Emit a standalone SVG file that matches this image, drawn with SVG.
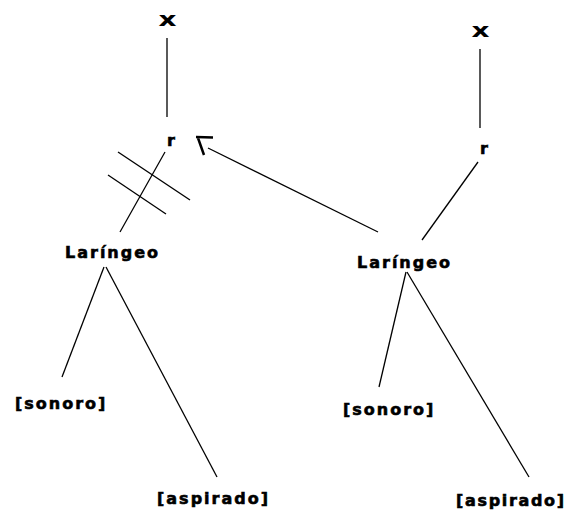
<svg xmlns="http://www.w3.org/2000/svg" width="571" height="511" viewBox="0 0 571 511">
<style>
.t{font-family:"DejaVu Sans","Liberation Sans",sans-serif;font-weight:bold;font-size:16px;letter-spacing:2px;fill:#000;stroke:#000;stroke-width:0.6px}
.x{font-family:"DejaVu Sans","Liberation Sans",sans-serif;font-weight:bold;font-size:20px;fill:#000}
.l{stroke:#000;stroke-width:1.3;fill:none}
.h{stroke:#000;stroke-width:2.5;fill:none}
</style>
<rect width="571" height="511" fill="#fff"/>
<g id="connectors">
<line class="l" x1="167" y1="38" x2="167" y2="117"/>
<line class="l" x1="165" y1="152" x2="120" y2="232"/>
<line class="l" x1="118" y1="152" x2="190" y2="200"/>
<line class="l" x1="108" y1="175" x2="166" y2="214"/>
<line class="l" x1="104" y1="267" x2="62" y2="377"/>
<line class="l" x1="106" y1="267" x2="217" y2="477"/>
<line class="l" x1="480" y1="49" x2="480" y2="128"/>
<line class="l" x1="478" y1="162" x2="422" y2="240"/>
<line class="l" x1="378" y1="232" x2="208" y2="148"/>
<path class="h" d="M196,137 L213,137.5 M198,138 L204,155"/>
<line class="l" x1="406" y1="272" x2="379" y2="387"/>
<line class="l" x1="407" y1="272" x2="529" y2="477"/>
</g>
<g id="x-left"><text class="x" x="167.5" y="26" text-anchor="middle" textLength="18" lengthAdjust="spacingAndGlyphs">x</text></g>
<g id="r-left"><text class="t" x="167" y="146">r</text></g>
<g id="laringeo-left"><text class="t" x="65" y="258">Laríngeo</text></g>
<g id="sonoro-left"><text class="t" x="15" y="409">[sonoro]</text></g>
<g id="aspirado-left"><text class="t" x="157" y="504">[aspirado]</text></g>
<g id="x-right"><text class="x" x="480.5" y="37" text-anchor="middle" textLength="18" lengthAdjust="spacingAndGlyphs">x</text></g>
<g id="r-right"><text class="t" x="480" y="154">r</text></g>
<g id="laringeo-right"><text class="t" x="357" y="268">Laríngeo</text></g>
<g id="sonoro-right"><text class="t" x="343" y="415">[sonoro]</text></g>
<g id="aspirado-right"><text class="t" x="456" y="506" textLength="110" lengthAdjust="spacing">[aspirado]</text></g>
</svg>
